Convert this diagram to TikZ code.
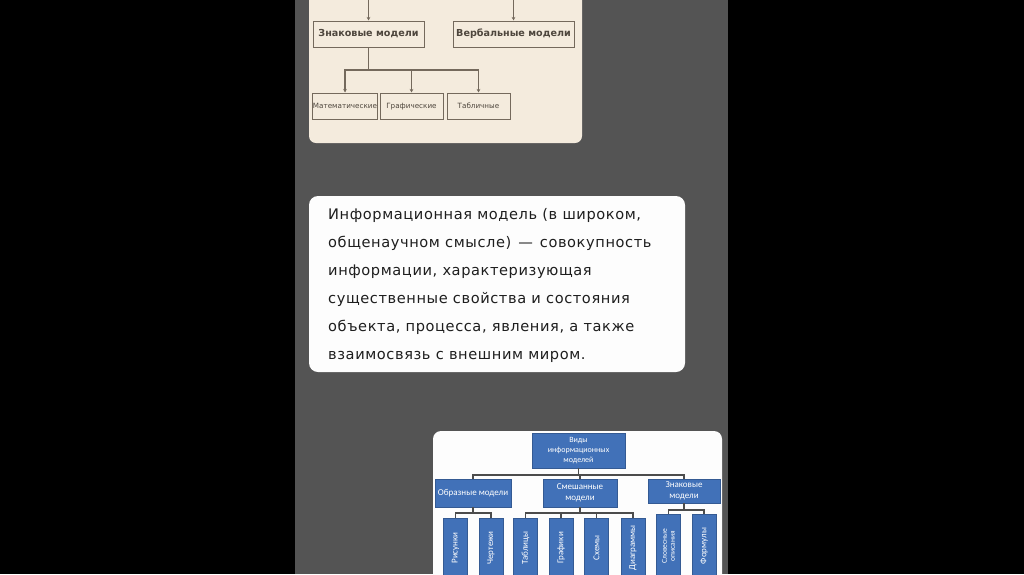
\documentclass[tikz,border=0pt]{standalone}
\usepackage{fontspec}
\setmainfont{DejaVu Sans}[LetterSpace=4]
\newfontfamily\beigefont{DejaVu Sans}
\newfontfamily\bluefont{Carlito}
\usetikzlibrary{arrows.meta,calc}
\definecolor{colbg}{HTML}{000000}
\definecolor{colcol}{HTML}{545454}
\definecolor{colbeige}{HTML}{F4EBDD}
\definecolor{colbline}{HTML}{74695C}
\definecolor{colbtext}{HTML}{4E463D}
\definecolor{colblue}{HTML}{4171B8}
\definecolor{colbluel}{HTML}{4C4C4C}
\definecolor{coltext}{HTML}{1E1E1E}
\definecolor{colcard}{HTML}{FDFDFD}
\tikzset{
  bbox/.style={draw=colbline, line width=1pt, fill=colbeige, inner sep=0pt, text=colbtext, font=\beigefont\bfseries\fontsize{9.6}{11}\selectfont},
  bsmall/.style={bbox, text height=5pt, text depth=1pt, font=\beigefont\fontsize{7.2}{8}\selectfont},
  bline/.style={draw=colbline, line width=1.1pt},
  barrow/.style={bline, -{Stealth[length=3.5pt,width=3.5pt]}},
  blbox/.style={fill=colblue, draw=colblue!80!black, line width=0.4pt, inner sep=0pt, text=white, align=center, font=\bluefont\fontsize{9}{10.5}\selectfont},
  blv/.style={blbox, rotate=90, minimum height=24pt, font=\bluefont\fontsize{9}{9}\selectfont},
  blline/.style={draw=colbluel, line width=1.3pt},
  txt/.style={anchor=base west, inner sep=0pt, text=coltext, font=\fontsize{14.6}{16}\selectfont},
}
\begin{document}
\begin{tikzpicture}[x=1pt,y=-1pt]
\useasboundingbox (0,0) rectangle (1024,574);
\clip (0,0) rectangle (1024,574);
\fill[colbg] (0,0) rectangle (1024,574);
\fill[colcol] (295,0) rectangle (728,574);
% beige card
\fill[colbeige, rounded corners=7pt] (309,-20) rectangle (582,143);
\coordinate (zkin) at (368.5,0);
\coordinate (vbin) at (513.5,0);
\node[bbox, minimum width=111pt, minimum height=26pt] (zk) at (368.5,34) {Знаковые модели};
\node[bbox, minimum width=121pt, minimum height=26pt] (vb) at (513.5,34) {Вербальные модели};
\node[bsmall, minimum width=64pt, minimum height=26pt] (mat) at (345,106) {Математические};
\node[bsmall, minimum width=63pt, minimum height=26pt] (gr) at (411.5,106) {Графические};
\node[bsmall, minimum width=63pt, minimum height=26pt] (tb) at (478.5,106) {Табличные};
\draw[barrow] (zkin) -- (zk.north);
\draw[barrow] (vbin) -- (vb.north);
\coordinate (zbus) at (368.5,70);
\draw[bline] (zk.south) -- (zbus);
\draw[barrow] (zbus) -| (mat.north);
\draw[barrow] (zbus) -| (tb.north);
\draw[barrow] (zbus -| gr.north) -- (gr.north);
% text card
\fill[colcard, rounded corners=9pt] (309,196) rectangle (685,372);
\node[txt] (l1) at (328,219.3) {Информационная модель (в широком,};
\node[txt] (l2) at (328,247.4) {общенаучном смысле)\hspace{7pt}—\hspace{7pt}совокупность};
\node[txt] (l3) at (328,275.5) {информации, характеризующая};
\node[txt] (l4) at (328,303.6) {существенные свойства и состояния};
\node[txt] (l5) at (328,331.7) {объекта, процесса, явления, а также};
\node[txt] (l6) at (328,359.8) {взаимосвязь с внешним миром.};
% bottom card
\fill[colcard, rounded corners=8pt] (433,431) rectangle (722,600);
\node[blbox, minimum width=93pt, minimum height=35pt, font=\bluefont\fontsize{8}{10}\selectfont] (top) at (578.5,450.5) {Виды\\информационных\\моделей};
\node[blbox, minimum width=76pt, minimum height=28pt] (obr) at (473,493) {Образные модели};
\node[blbox, minimum width=74pt, minimum height=28pt] (sm) at (580,493) {Смешанные\\модели};
\node[blbox, minimum width=72pt, minimum height=24pt] (zn) at (684,491) {Знаковые\\модели};
\node[blv, minimum width=60pt] (c1) at (455.5,548) {Рисунки};
\node[blv, minimum width=60pt] (c2) at (491,548) {Чертежи};
\node[blv, minimum width=60pt] (c3) at (525.5,548) {Таблицы};
\node[blv, minimum width=60pt] (c4) at (561,548) {Графики};
\node[blv, minimum width=60pt] (c5) at (596.5,548) {Схемы};
\node[blv, minimum width=60pt] (c6) at (633,548) {Диаграммы};
\node[blv, minimum width=64pt, font=\bluefont\fontsize{7.5}{8}\selectfont] (c7) at (668.5,546) {Словесные\\описания};
\node[blv, minimum width=64pt] (c8) at (704,546) {Формулы};
\coordinate (b1) at (578.5,475);
\draw[blline] (top.south) -- (b1);
\draw[blline] (obr.north) |- (b1) -| (zn.north);
\draw[blline] (b1) -| (sm.north);
\coordinate (b2) at (473,513);
\draw[blline] (obr.south) -- (b2);
\draw[blline] (c1.east) |- (b2) -| (c2.east);
\coordinate (b3) at (580,513);
\draw[blline] (sm.south) -- (b3);
\draw[blline] (c3.east) |- (b3) -| (c6.east);
\draw[blline] (b3 -| c4.east) -- (c4.east);
\draw[blline] (b3 -| c5.east) -- (c5.east);
\coordinate (b4) at (684,510);
\draw[blline] (zn.south) -- (b4);
\draw[blline] (c7.east) |- (b4) -| (c8.east);
\end{tikzpicture}
\end{document}
